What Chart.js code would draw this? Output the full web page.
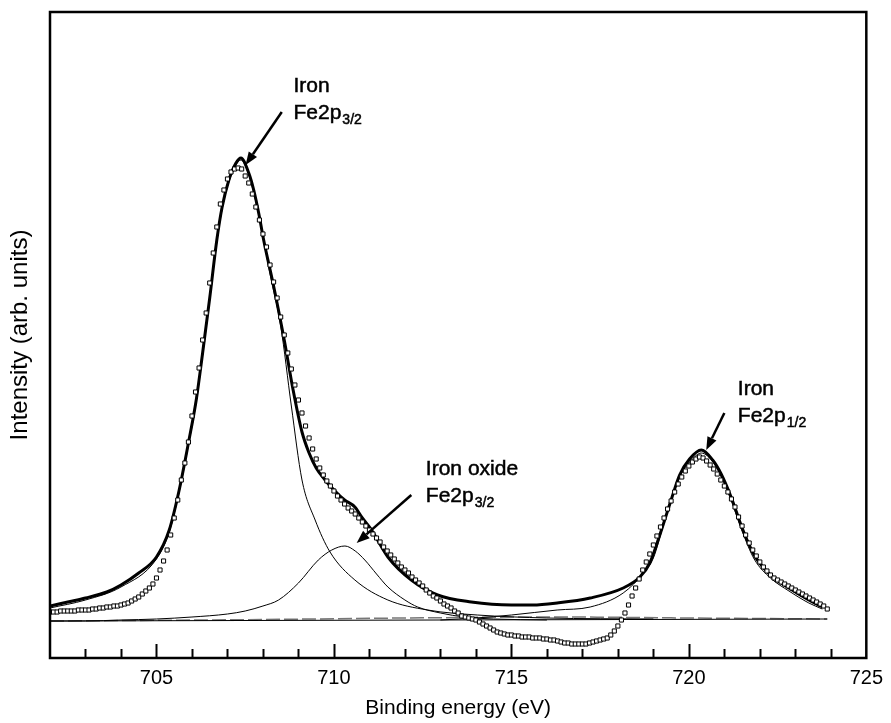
<!DOCTYPE html>
<html><head><meta charset="utf-8">
<script src="https://cdn.jsdelivr.net/npm/chart.js@4.4.0/dist/chart.umd.min.js"></script>
<style>html,body{margin:0;padding:0;background:#fff;}</style>
</head><body>
<canvas id="c" width="891" height="723"></canvas>
<script>
// Binding energy (eV) of the measured points
const dataEnergy = [
702.0,702.1,702.2,702.3,702.4,702.5,702.6,702.7,702.8,702.9,
703.0,703.1,703.2,703.3,703.4,703.5,703.6,703.7,703.8,703.9,
704.0,704.1,704.2,704.3,704.4,704.5,704.6,704.7,704.8,704.9,
705.0,705.1,705.2,705.3,705.4,705.5,705.6,705.7,705.8,705.9,
706.0,706.1,706.2,706.3,706.4,706.5,706.6,706.7,706.8,706.9,
707.0,707.1,707.2,707.3,707.4,707.5,707.6,707.7,707.8,707.9,
708.0,708.1,708.2,708.3,708.4,708.5,708.6,708.7,708.8,708.9,
709.0,709.1,709.2,709.3,709.4,709.5,709.6,709.7,709.8,709.9,
710.0,710.1,710.2,710.3,710.4,710.5,710.6,710.7,710.8,710.9,
711.0,711.1,711.2,711.3,711.4,711.5,711.6,711.7,711.8,711.9,
712.0,712.1,712.2,712.3,712.4,712.5,712.6,712.7,712.8,712.9,
713.0,713.1,713.2,713.3,713.4,713.5,713.6,713.7,713.8,713.9,
714.0,714.1,714.2,714.3,714.4,714.5,714.6,714.7,714.8,714.9,
715.0,715.1,715.2,715.3,715.4,715.5,715.6,715.7,715.8,715.9,
716.0,716.1,716.2,716.3,716.4,716.5,716.6,716.7,716.8,716.9,
717.0,717.1,717.2,717.3,717.4,717.5,717.6,717.7,717.8,717.9,
718.0,718.1,718.2,718.3,718.4,718.5,718.6,718.7,718.8,718.9,
719.0,719.1,719.2,719.3,719.4,719.5,719.6,719.7,719.8,719.9,
720.0,720.1,720.2,720.3,720.4,720.5,720.6,720.7,720.8,720.9,
721.0,721.1,721.2,721.3,721.4,721.5,721.6,721.7,721.8,721.9,
722.0,722.1,722.2,722.3,722.4,722.5,722.6,722.7,722.8,722.9,
723.0,723.1,723.2,723.3,723.4,723.5,723.6,723.7,723.8,723.9];
// Measured intensity (open squares)
const dataIntensity = [
46,46,46,47,47,47,47,47,48,48,
48,48,49,49,50,50,51,51,52,52,
53,54,55,57,59,61,64,67,70,74,
80,88,97,108,123,140,158,178,195,216,
242,266,290,318,345,375,405,431,454,468,
479,486,489,490,489,482,475,464,451,438,
424,411,393,376,360,341,323,305,289,273,
258,245,232,220,209,199,190,183,177,172,
167,162,158,154,150,147,144,140,136,132,
128,124,120,116,111,107,103,99,95,91,
88,85,81,78,75,72,68,65,62,60,
57,54,52,50,47,45,42,41,40,39,
38,36,34,32,30,28,26,25,24,23,
23,22,22,21,21,21,20,20,20,19,
19,18,18,17,16,15,15,14,14,14,
14,14,15,16,17,18,19,20,23,27,
32,38,45,53,62,70,79,88,96,104,
113,122,131,140,149,157,166,174,181,187,
192,196,199,201,200,197,193,189,184,178,
172,166,159,151,141,132,123,115,108,102,
96,91,87,83,80,78,76,74,72,70,
68,66,64,62,60,58,56,54,52,49];

// Fitted envelope (thick line)
const fitEnergy = [702.0,702.5,703.0,703.6,704.0,704.5,705.0,705.36,705.64,705.9,706.12,706.3,706.5,706.7,706.85,707.04,707.24,707.38,707.6,707.74,707.88,708.02,708.3,708.6,708.85,709.1,709.3,709.5,709.75,710.0,710.3,710.59,710.8,711.06,711.52,712.18,712.92,713.87,715.0,715.6,716.29,717.22,718.15,718.62,718.9,719.2,719.5,719.74,720.02,720.35,720.67,720.91,721.2,721.5,721.84,722.3,722.82,723.38,723.76];
const fitIntensity = [52,56,60,66,73,85,101,128,168,215,258,305,360,418,451,478,495,500,485,468,445,418,372,318,268,226,205,190,178,168,158,151,140,128,101,78,63,56,53,53,55,60,70,81,95,125,158,183,199,208,198,184,160,130,103,83,70,58,51];

// Component: iron Fe2p3/2
const fe32Energy = [702.0,703.0,704.0,705.0,705.36,705.64,705.9,706.12,706.3,706.5,706.7,706.85,707.04,707.24,707.38,707.6,707.9,708.2,708.5,708.8,709.1,709.47,709.89,710.59,711.52,712.64,714.04,716.0,719.0];
const fe32Intensity = [50,58,71,99,126,166,213,256,303,358,416,449,476,493,498,483,440,384,332,252,178,138,106,78,58,48,43,40,39];

// Component: iron oxide Fe2p3/2
const oxEnergy = [702.0,703.0,704.0,705.0,706.0,707.0,707.5,708.0,708.44,709.0,709.56,709.94,710.31,710.6,710.87,711.2,711.52,712.0,712.36,713.0,713.67,714.5,716.0];
const oxIntensity = [37,37,38,39,41,44,47,52,58,75,98,108,112,107,98,84,71,58,51,45,41,39,38];

// Component: iron Fe2p1/2
const fe12Energy = [713.0,714.0,715.0,716.29,717.22,718.15,718.72,719.0,719.3,719.6,719.8,720.05,720.35,720.7,720.9,721.2,721.5,721.84,722.3,722.82,723.38,723.76];
const fe12Intensity = [38,40,43,48,51,65,85,100,135,168,185,197,205,195,182,157,127,99,80,67,55,49];

// Backgrounds
const baseEnergy = [702.0,723.9];
const baseIntensity = [37,39];
const bg2Energy = [702.0,708.0,712.0,716.3,720.0,723.9];
const bg2Intensity = [37,38.5,40,41,40,39];

const xTickValues = [705,710,715,720,725];

const pts = (xs, ys) => xs.map((x, i) => ({x: x, y: ys[i]}));

const annotations = [
  {title: 'Iron', main: 'Fe2p', sub: '3/2', x: 708.86, top: 581, from: [708.53, 546], to: [707.51, 493]},
  {title: 'Iron oxide', main: 'Fe2p', sub: '3/2', x: 712.59, top: 198, from: [712.18, 163], to: [710.64, 115]},
  {title: 'Iron', main: 'Fe2p', sub: '1/2', x: 721.38, top: 278, from: [721.0, 245], to: [720.49, 208]}
];

const FONT = '"Liberation Sans", Arial, Helvetica, sans-serif';

function heavyText(ctx, s, x, y) {
  ctx.fillText(s, x, y);
  ctx.strokeText(s, x, y);
}

const decor = {
  id: 'decor',
  afterDatasetsDraw(chart) {
    const {ctx, chartArea: a, scales: {x, y}} = chart;
    ctx.save();
    ctx.strokeStyle = '#000';
    ctx.lineWidth = 2;
    for (const t of x.ticks) {
      const v = t.value;
      if (v <= x.min || v >= x.max) continue;
      const px = Math.round(x.getPixelForValue(v)) + 0.5;
      const len = (v % 5 === 0) ? 14 : 9;
      ctx.beginPath();
      ctx.moveTo(px, a.bottom);
      ctx.lineTo(px, a.bottom - len);
      ctx.stroke();
    }
    ctx.lineWidth = 2.5;
    ctx.strokeRect(a.left, a.top, a.right - a.left, a.bottom - a.top);
    for (const an of annotations) {
      const fx = x.getPixelForValue(an.from[0]), fy = y.getPixelForValue(an.from[1]);
      const tx = x.getPixelForValue(an.to[0]), ty = y.getPixelForValue(an.to[1]);
      const ang = Math.atan2(ty - fy, tx - fx);
      const hl = 13, hw = 5;
      const bx = tx - hl * Math.cos(ang), by = ty - hl * Math.sin(ang);
      ctx.lineWidth = 2.5;
      ctx.strokeStyle = '#000';
      ctx.beginPath();
      ctx.moveTo(fx, fy);
      ctx.lineTo(bx, by);
      ctx.stroke();
      ctx.beginPath();
      ctx.moveTo(tx, ty);
      ctx.lineTo(bx + hw * Math.sin(ang), by - hw * Math.cos(ang));
      ctx.lineTo(bx - hw * Math.sin(ang), by + hw * Math.cos(ang));
      ctx.closePath();
      ctx.fillStyle = '#000';
      ctx.fill();
      const lx = x.getPixelForValue(an.x);
      const top = y.getPixelForValue(an.top);
      ctx.fillStyle = '#000';
      ctx.lineWidth = 0.5;
      ctx.textBaseline = 'alphabetic';
      ctx.textAlign = 'left';
      ctx.font = '21px ' + FONT;
      heavyText(ctx, an.title, lx, top + 15);
      heavyText(ctx, an.main, lx, top + 42);
      const w = ctx.measureText(an.main).width;
      ctx.font = '14px ' + FONT;
      heavyText(ctx, an.sub, lx + w + 1, top + 47);
    }
    ctx.restore();
  }
};

const thin = {borderColor: '#000', borderWidth: 1, pointRadius: 0, fill: false, cubicInterpolationMode: 'monotone'};

new Chart(document.getElementById('c'), {
  type: 'line',
  data: {
    datasets: [
      {label: 'Measured', data: pts(dataEnergy, dataIntensity), showLine: false, pointStyle: 'rect', pointRadius: 2.9, pointBorderWidth: 1, pointBorderColor: '#000', pointBackgroundColor: '#fff', order: 0},
      {label: 'Fit', data: pts(fitEnergy, fitIntensity), borderColor: '#000', borderWidth: 3, pointRadius: 0, cubicInterpolationMode: 'monotone', order: 1},
      Object.assign({label: 'Fe2p3/2', data: pts(fe32Energy, fe32Intensity), order: 2}, thin),
      Object.assign({label: 'Oxide', data: pts(oxEnergy, oxIntensity), order: 3}, thin),
      Object.assign({label: 'Fe2p1/2', data: pts(fe12Energy, fe12Intensity), order: 4}, thin),
      Object.assign({label: 'Baseline', data: pts(baseEnergy, baseIntensity), order: 5}, thin, {borderWidth: 1.2}),
      Object.assign({label: 'Background', data: pts(bg2Energy, bg2Intensity), order: 6}, thin, {borderColor: '#777', borderWidth: 1.5, borderDash: [14, 4]})
    ]
  },
  options: {
    responsive: false,
    animation: false,
    devicePixelRatio: 1,
    layout: {padding: {top: 12, right: 20, left: 0, bottom: 0}},
    plugins: {legend: {display: false}, tooltip: {enabled: false}},
    scales: {
      x: {
        type: 'linear', min: 702, max: 725,
        grid: {display: false, drawTicks: false},
        border: {display: false},
        ticks: {
          stepSize: 1, autoSkip: false, maxRotation: 0, padding: 8, color: '#000',
          font: {family: FONT, size: 20},
          callback: (v) => xTickValues.includes(v) ? String(v) : ''
        },
        title: {display: true, text: 'Binding energy (eV)', color: '#000', font: {family: FONT, size: 21}, padding: {top: 0, bottom: 2}},
        afterFit: (s) => { s.height = 65; }
      },
      y: {
        min: 0, max: 646,
        grid: {display: false, drawTicks: false},
        border: {display: false},
        ticks: {display: false},
        title: {display: true, text: 'Intensity (arb. units)', color: '#000', font: {family: FONT, size: 24}, padding: {top: 6, bottom: 0}},
        afterFit: (s) => { s.width = 50; }
      }
    }
  },
  plugins: [decor]
});
</script>
</body></html>
